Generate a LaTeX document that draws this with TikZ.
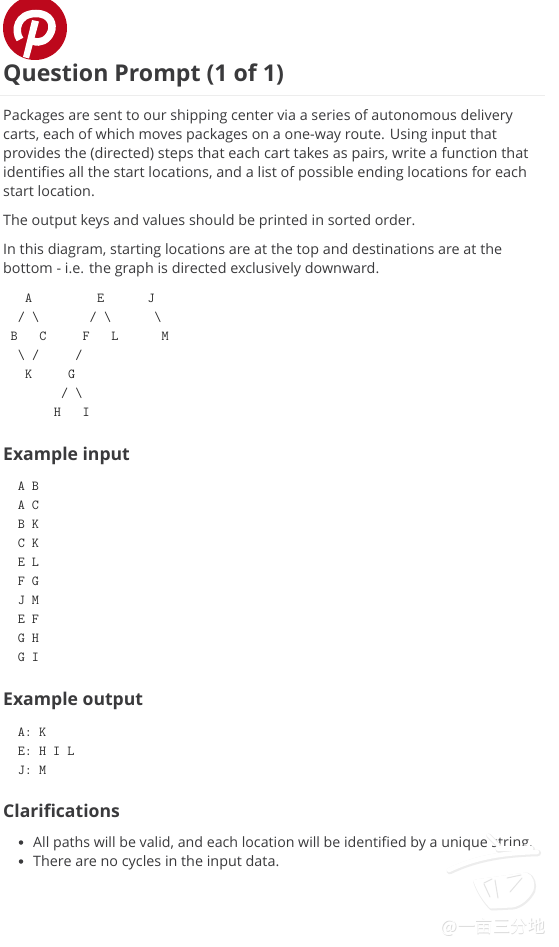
\documentclass[tikz,border=0pt]{standalone}
\usepackage{fontspec}
\setmainfont{Open Sans}
\newfontfamily\cjkwm{Noto Sans CJK SC}
\definecolor{ink}{HTML}{3A3A3C}
\definecolor{pinred}{HTML}{BD081C}
\newcommand{\bodyfs}{\fontsize{14.35}{17}\selectfont}
\newcommand{\gp}[1]{\hspace*{#1\dimexpr 7.22pt\relax}}
\tikzset{
  x=1pt,y=-1pt,
  bodyline/.style={anchor=base west,inner sep=0pt,text=ink,font=\bodyfs},
  headbig/.style={anchor=base west,inner sep=0pt,text=ink,font=\fontsize{23.1}{28}\selectfont\bfseries},
  headsmall/.style={anchor=base west,inner sep=0pt,text=ink,font=\fontsize{17.6}{22}\selectfont\bfseries},
  monoline/.style={anchor=base west,inner sep=0pt,text=black!85,font=\fontsize{13.75}{16}\selectfont\ttfamily},
  bulletdot/.style={circle,fill=ink,minimum size=4.5pt,inner sep=0pt},
  wmstroke/.style={draw=white,fill=white,line cap=round,line join=round,line width=#1},
  wmshadow/.style={draw=black!7,fill=black!7,line cap=round,line join=round,line width=#1+2pt},
  wmgap/.style={draw=black!11,line cap=round,line width=1pt},
}
\newcommand{\wmshape}[1]{%
    \draw[#1=4.5pt,fill=none] (449,870) .. controls (470,860) and (495,853) .. (537,852);
    \draw[#1=3pt,fill=none] (488,835) -- (498,845);
    \draw[#1=4.5pt,fill=none] (498,848.5) -- (531,848.5);
    \draw[#1=3pt] (475,881) -- (526,874) .. controls (532,876) and (534,884) .. (532,890)
       .. controls (528,898) and (520,905) .. (512,906) -- (491,907) .. controls (484,900) and (478,890) .. cycle;
}
\begin{document}
\begin{tikzpicture}
\useasboundingbox[fill=white] (0,0) rectangle (558,947);
% logo
\begin{scope}
\clip (0,0) rectangle (558,947);
\node[circle,fill=pinred,minimum size=64pt,inner sep=0pt] (logo) at (35,28) {};
\draw[white,line width=7.5pt] (20,39.5) .. controls (14,31) and (17,13.5) .. (36,13.5)
   .. controls (51,13.5) and (54,25) .. (51,32) .. controls (48,40) and (40,44) .. (33,41);
\fill[white] (32,20) -- (39,21.5) -- (29,58.5) -- (23,57) -- cycle;
\end{scope}
\node[headbig] (title) at (3,81.5) {Question Prompt (1 of 1)};
\coordinate (ruleL) at (0,95.5);
\coordinate (ruleR) at (545,95.5);
\draw[black!7,line width=.8pt] (ruleL) -- (ruleR);
% paragraph
\node[bodyline,font=\fontsize{14.3}{17}\selectfont] (p1) at (3,120.5) {Packages are sent to our shipping center via a series of autonomous delivery};
\node[bodyline] (p2) at (3,139.5) {carts, each of which moves packages on a one-way route. Using input that};
\node[bodyline,font=\fontsize{14.45}{17}\selectfont] (p3) at (3,158.5) {provides the (directed) steps that each cart takes as pairs, write a function that};
\node[bodyline,font=\fontsize{14.45}{17}\selectfont] (p4) at (3,177.5) {identifies all the start locations, and a list of possible ending locations for each};
\node[bodyline] (p5) at (3,196.5) {start location.};
\node[bodyline] (p6) at (3,225.5) {The output keys and values should be printed in sorted order.};
\node[bodyline] (p7) at (3,254.5) {In this diagram, starting locations are at the top and destinations are at the};
\node[bodyline] (p8) at (3,273.5) {bottom - i.e. the graph is directed exclusively downward.};
% ascii diagram
\node[monoline] (d1) at (10.4,302) {\gp{2}A\gp{9}E\gp{6}J};
\node[monoline] (d2) at (10.4,321) {\gp{1}/\gp{1}\textbackslash\gp{7}/\gp{1}\textbackslash\gp{6}\textbackslash};
\node[monoline] (d3) at (10.4,340) {B\gp{3}C\gp{5}F\gp{3}L\gp{6}M};
\node[monoline] (d4) at (10.4,359) {\gp{1}\textbackslash\gp{1}/\gp{5}/};
\node[monoline] (d5) at (10.4,378) {\gp{2}K\gp{5}G};
\node[monoline] (d6) at (10.4,397) {\gp{7}/\gp{1}\textbackslash};
\node[monoline] (d7) at (10.4,416) {\gp{6}H\gp{3}I};
% input
\node[headsmall] (h1) at (3,460) {Example input};
\node[monoline] (i1) at (17.6,490) {A B};
\node[monoline] (i2) at (17.6,509) {A C};
\node[monoline] (i3) at (17.6,528) {B K};
\node[monoline] (i4) at (17.6,547) {C K};
\node[monoline] (i5) at (17.6,566) {E L};
\node[monoline] (i6) at (17.6,585) {F G};
\node[monoline] (i7) at (17.6,604) {J M};
\node[monoline] (i8) at (17.6,623) {E F};
\node[monoline] (i9) at (17.6,642) {G H};
\node[monoline] (i10) at (17.6,661) {G I};
% output
\node[headsmall] (h2) at (3,705) {Example output};
\node[monoline] (o1) at (17.6,736) {A: K};
\node[monoline] (o2) at (17.6,755) {E: H I L};
\node[monoline] (o3) at (17.6,774) {J: M};
% clarifications
\node[headsmall] (h3) at (3,817) {Clarifications};
\node[bulletdot] (b1) at (21,842.5) {};
\node[bodyline,font=\fontsize{14.2}{17}\selectfont] (c1) at (33,847.5) {All paths will be valid, and each location will be identified by a unique string.};
\node[bulletdot] (b2) at (21,861.5) {};
\node[bodyline] (c2) at (33,866.5) {There are no cycles in the input data.};
% watermark
\begin{scope}[shift={(.8,1)}]\wmshape{wmshadow}\end{scope}
\wmshape{wmstroke}
\draw[wmgap] (484,883) -- (492,879);
\draw[wmgap] (484,884) -- (490,897);
\draw[wmgap] (507,878) -- (521,875);
\draw[wmgap] (522,878) -- (510,892);
\draw[wmgap] (495,880) -- (498,898);
\node[anchor=center,inner sep=0pt,text=black!14,font=\cjkwm\fontsize{17.5}{20}\selectfont] (wms) at (493.8,927.8) {@一亩三分地};
\node[anchor=center,inner sep=0pt,text=white,font=\cjkwm\fontsize{17.5}{20}\selectfont] (wm) at (493,927) {@一亩三分地};
\end{tikzpicture}
\end{document}
